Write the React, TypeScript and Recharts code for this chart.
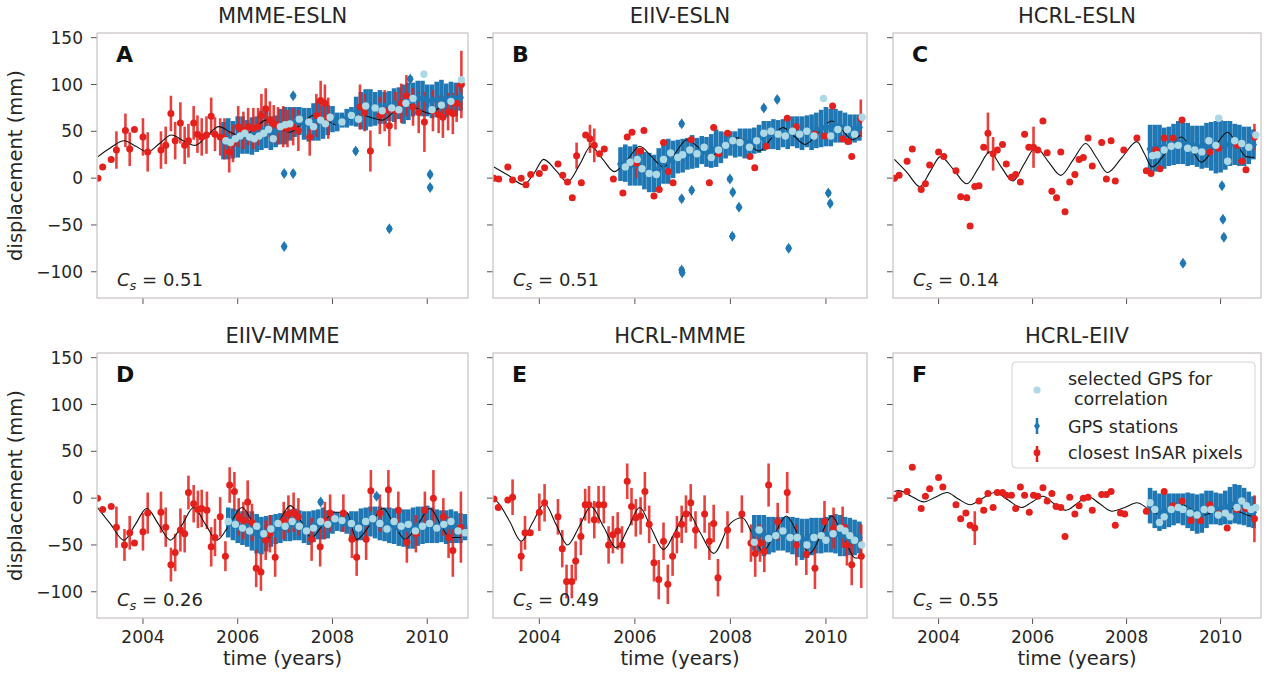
import React from "react";
import { ComposedChart, Scatter, Line, XAxis, YAxis, ErrorBar } from "recharts";

type Row = [number, number, number];
type Pt = [number, number];

const titles = ["MMME-ESLN", "EIIV-ESLN", "HCRL-ESLN", "EIIV-MMME", "HCRL-MMME", "HCRL-EIIV"];
const letters = ["A", "B", "C", "D", "E", "F"];
const corrValues = ["0.51", "0.51", "0.14", "0.26", "0.49", "0.55"];
const yearTicks = [2004, 2006, 2008, 2010];
const dispTicks = [-100, -50, 0, 50, 100, 150];

// InSAR: [time, displacement, error]
const insarA: Row[] = [
  [2003.05, 0, 0], [2003.15, 12, 0], [2003.33, 20, 0], [2003.44, 30, 20], [2003.63, 51, 18], [2003.72, 31, 18],
  [2003.82, 52, 0], [2004.0, 44, 20], [2004.1, 28, 21], [2004.38, 30, 20], [2004.48, 35, 20], [2004.59, 69, 19],
  [2004.68, 40, 20], [2004.79, 59, 22], [2004.88, 35, 20], [2004.96, 40, 18], [2005.07, 59, 18], [2005.15, 47, 20],
  [2005.24, 44, 20], [2005.34, 46, 20], [2005.44, 66, 20], [2005.52, 47, 18], [2005.63, 44, 20], [2005.72, 42, 22],
  [2005.82, 28, 22], [2005.9, 37, 20], [2006.01, 55, 22], [2006.12, 51, 20], [2006.22, 55, 20], [2006.33, 53, 22],
  [2006.43, 55, 20], [2006.5, 67, 23], [2006.59, 74, 22], [2006.68, 62, 20], [2006.76, 58, 20], [2006.85, 56, 20],
  [2006.96, 55, 22], [2007.05, 53, 20], [2007.17, 55, 20], [2007.28, 51, 22], [2007.52, 44, 20], [2007.66, 67, 23],
  [2007.75, 83, 21], [2007.84, 80, 20], [2007.91, 64, 22], [2008.58, 76, 24], [2008.68, 70, 20], [2008.8, 29, 22],
  [2009.0, 67, 20], [2009.1, 72, 22], [2009.2, 56, 22], [2009.33, 72, 20], [2009.45, 80, 21], [2009.56, 88, 22],
  [2009.7, 76, 20], [2009.82, 70, 22], [2009.94, 60, 32], [2010.12, 72, 22], [2010.24, 68, 20], [2010.33, 65, 22],
  [2010.44, 71, 20], [2010.54, 69, 22], [2010.62, 80, 20], [2010.72, 100, 36],
];
const insarB: Row[] = [
  [2003.05, 0, 0], [2003.15, -1, 0], [2003.34, 12, 0], [2003.44, -2, 0], [2003.62, 0, 0], [2003.72, -7, 0],
  [2003.82, 4, 0], [2004.0, 5, 0], [2004.11, 11, 0], [2004.39, 15, 0], [2004.49, 3, 0], [2004.59, -4, 0],
  [2004.69, -21, 0], [2004.78, 24, 14], [2004.88, -5, 0], [2004.97, 46, 0], [2005.06, 42, 15], [2005.15, 35, 18],
  [2005.26, 26, 0], [2005.36, 31, 0], [2005.55, -1, 0], [2005.75, -16, 0], [2005.84, 44, 0], [2005.94, 49, 0],
  [2006.03, 16, 16], [2006.12, 29, 0], [2006.19, 51, 0], [2006.4, -19, 0], [2006.51, -12, 0], [2006.6, 38, 0],
  [2006.7, 7, 0], [2006.8, -5, 0], [2007.18, 41, 0], [2007.56, -5, 0], [2007.65, 54, 0], [2007.76, 26, 0],
  [2007.94, 48, 0], [2008.41, 23, 0], [2008.51, 11, 0], [2008.75, 34, 0], [2009.19, 64, 0], [2009.38, 55, 0],
  [2009.77, 47, 0], [2009.97, 45, 0], [2010.14, 77, 0], [2010.35, 42, 0], [2010.46, 39, 0], [2010.54, 23, 0],
  [2010.73, 64, 20],
];
const insarC: Row[] = [
  [2003.06, 0, 0], [2003.16, 3, 0], [2003.33, 18, 0], [2003.44, 31, 0], [2003.63, -12, 0], [2003.72, -6, 0],
  [2003.81, 14, 0], [2004.0, 28, 0], [2004.11, 23, 0], [2004.37, 8, 0], [2004.47, -20, 0], [2004.6, -21, 0],
  [2004.67, -51, 0], [2004.77, -9, 0], [2004.86, -8, 0], [2004.96, 33, 0], [2005.05, 48, 22], [2005.16, 26, 18],
  [2005.25, 30, 0], [2005.36, 36, 0], [2005.44, 15, 0], [2005.55, 1, 0], [2005.64, 4, 0], [2005.74, -4, 0],
  [2005.83, 47, 0], [2005.92, 33, 0], [2006.02, 33, 22], [2006.11, 30, 0], [2006.22, 61, 0], [2006.31, 27, 0],
  [2006.41, -14, 0], [2006.51, -21, 0], [2006.6, 28, 0], [2006.69, -36, 0], [2006.79, -4, 0], [2006.9, 4, 0],
  [2006.99, 20, 0], [2007.08, 22, 0], [2007.18, 43, 0], [2007.27, 13, 0], [2007.47, 38, 0], [2007.57, -1, 0],
  [2007.67, 40, 0], [2007.76, -3, 0], [2007.94, 30, 0], [2008.22, 43, 0], [2008.42, 8, 0], [2008.52, 5, 0],
  [2008.62, 30, 0], [2008.71, 10, 0], [2008.8, 43, 0], [2008.99, 43, 0], [2009.18, 62, 0], [2009.77, 28, 0],
  [2009.96, 32, 0], [2010.36, 35, 0], [2010.45, 18, 0], [2010.54, 9, 0], [2010.72, 44, 14],
];
const insarD: Row[] = [
  [2003.04, 0, 0], [2003.15, -12, 0], [2003.33, -9, 0], [2003.44, -31, 22], [2003.61, -50, 17], [2003.72, -37, 18],
  [2003.82, -48, 0], [2004.0, -36, 20], [2004.1, -16, 22], [2004.38, -15, 22], [2004.48, -31, 21], [2004.59, -71, 18],
  [2004.68, -58, 20], [2004.79, -34, 23], [2004.88, -38, 20], [2004.96, 6, 18], [2005.07, -6, 20], [2005.16, -12, 20],
  [2005.24, -11, 20], [2005.35, -13, 20], [2005.44, -52, 21], [2005.52, -42, 20], [2005.63, -20, 21], [2005.74, -62, 16],
  [2005.83, 14, 19], [2005.93, 7, 21], [2006.02, -20, 20], [2006.12, -24, 20], [2006.21, -4, 23], [2006.3, -26, 20],
  [2006.39, -75, 20], [2006.49, -79, 20], [2006.59, -45, 21], [2006.68, -38, 20], [2006.79, -63, 21], [2006.97, -24, 20],
  [2007.07, -17, 20], [2007.18, -15, 21], [2007.28, -20, 20], [2007.56, -44, 23], [2007.74, -52, 21], [2007.84, -24, 20],
  [2007.95, -16, 20], [2008.23, -16, 20], [2008.41, -44, 20], [2008.51, -63, 20], [2008.71, -44, 22], [2008.81, 8, 22],
  [2009.0, -16, 20], [2009.18, 9, 21], [2009.39, -13, 20], [2009.57, -47, 22], [2009.76, -38, 20], [2009.95, -13, 20],
  [2010.13, 0, 30], [2010.34, -20, 20], [2010.45, -42, 22], [2010.54, -56, 28], [2010.71, -31, 38],
];
const insarE: Row[] = [
  [2003.05, -1, 0], [2003.14, -10, 0], [2003.34, -2, 0], [2003.44, 1, 19], [2003.62, -62, 16], [2003.7, -37, 18],
  [2003.81, -37, 0], [2004.0, -15, 20], [2004.11, -5, 20], [2004.39, -20, 19], [2004.48, -54, 20], [2004.57, -89, 18],
  [2004.68, -89, 18], [2004.76, -67, 21], [2004.87, -41, 20], [2004.96, -7, 17], [2005.04, -7, 20], [2005.15, -23, 20],
  [2005.24, -7, 20], [2005.35, -7, 20], [2005.45, -50, 20], [2005.54, -39, 20], [2005.64, -35, 20], [2005.73, -50, 20],
  [2005.84, 18, 19], [2005.93, -9, 20], [2006.02, -21, 20], [2006.12, -19, 20], [2006.21, 7, 21], [2006.3, -28, 20],
  [2006.4, -69, 20], [2006.5, -87, 21], [2006.6, -46, 20], [2006.69, -92, 21], [2006.79, -62, 21], [2006.88, -39, 20],
  [2006.98, -28, 20], [2007.07, -17, 20], [2007.17, -5, 20], [2007.27, -34, 20], [2007.46, -17, 20], [2007.56, -46, 20],
  [2007.65, -27, 20], [2007.74, -85, 20], [2007.94, -34, 20], [2008.24, -17, 20], [2008.43, -48, 20], [2008.52, -59, 25],
  [2008.62, -48, 20], [2008.71, -57, 22], [2008.8, 14, 23], [2008.99, -25, 20], [2009.19, 6, 22], [2009.38, -50, 22],
  [2009.59, -60, 22], [2009.77, -75, 22], [2009.97, -25, 22], [2010.16, -32, 22], [2010.35, -31, 22], [2010.44, -50, 22],
  [2010.54, -71, 22], [2010.74, -62, 34],
];
const insarF: Row[] = [
  [2003.06, 0, 0], [2003.16, 4, 0], [2003.33, 7, 0], [2003.44, 33, 0], [2003.63, -11, 0], [2003.72, 2, 0],
  [2003.81, 10, 0], [2004.0, 22, 0], [2004.09, 12, 0], [2004.37, -7, 0], [2004.47, -22, 0], [2004.58, -16, 0],
  [2004.67, -29, 0], [2004.77, -32, 18], [2004.86, -3, 0], [2004.96, -13, 0], [2005.05, 5, 0], [2005.16, -10, 0],
  [2005.25, 6, 0], [2005.36, 6, 0], [2005.44, 3, 0], [2005.55, 3, 0], [2005.64, -11, 0], [2005.74, 12, 0],
  [2005.83, 3, 0], [2005.93, -15, 0], [2006.02, 3, 0], [2006.11, 2, 0], [2006.22, 11, 0], [2006.31, -3, 0],
  [2006.41, 5, 0], [2006.5, -9, 0], [2006.6, -10, 0], [2006.69, -41, 0], [2006.79, 1, 0], [2006.9, -17, 0],
  [2006.99, -8, 0], [2007.08, 0, 0], [2007.18, 1, 0], [2007.27, -13, 0], [2007.47, 4, 0], [2007.57, 4, 0],
  [2007.67, 7, 0], [2007.76, -29, 0], [2007.87, -16, 0], [2007.96, -17, 0], [2008.42, -14, 0], [2008.8, 7, 0],
  [2008.99, -8, 0], [2009.18, -3, 0], [2009.37, -24, 0], [2009.57, -24, 0], [2009.77, -7, 0], [2009.96, -17, 0],
  [2010.14, -32, 0], [2010.35, -12, 0], [2010.54, -11, 0], [2010.72, -22, 25],
];

// GPS stations: [time, displacement, error]
const gpsA: Row[] = [
  [2005.7, 40, 20], [2005.8, 42, 22], [2005.9, 41, 20], [2006.0, 44, 22], [2006.1, 46, 20], [2006.2, 44, 18],
  [2006.3, 45, 20], [2006.4, 47, 19], [2006.5, 51, 21], [2006.6, 52, 20], [2006.7, 48, 18], [2006.8, 50, 17],
  [2006.9, 55, 19], [2007.0, 56, 20], [2007.1, 58, 18], [2007.2, 60, 16], [2007.3, 61, 15], [2007.4, 58, 17],
  [2007.5, 57, 18], [2007.6, 60, 20], [2007.7, 62, 22], [2007.8, 60, 18], [2007.9, 62, 16], [2008.0, 63, 14],
  [2008.1, 60, 10], [2008.2, 62, 8], [2008.3, 64, 10], [2008.4, 66, 10], [2008.5, 71, 16], [2008.6, 72, 20],
  [2008.7, 73, 22], [2008.8, 75, 20], [2008.9, 74, 18], [2009.0, 76, 18], [2009.1, 75, 17], [2009.2, 77, 16],
  [2009.3, 78, 18], [2009.4, 80, 17], [2009.5, 79, 21], [2009.6, 82, 20], [2009.7, 84, 18], [2009.8, 86, 18],
  [2009.9, 85, 19], [2010.0, 83, 17], [2010.1, 82, 18], [2010.2, 84, 19], [2010.3, 85, 20], [2010.4, 83, 18],
  [2010.5, 86, 17], [2010.6, 84, 18], [2010.7, 86, 14],
  [2006.98, 5, 3], [2007.17, 5, 3], [2006.98, -73, 3], [2007.17, 88, 3], [2008.49, 29, 3], [2009.2, -54, 3],
  [2010.06, 4, 3], [2010.06, -10, 3], [2009.64, 106, 3],
];
const gpsB: Row[] = [
  [2005.7, 15, 18], [2005.8, 16, 20], [2005.9, 13, 21], [2006.0, 14, 22], [2006.1, 12, 20], [2006.2, 8, 20],
  [2006.3, 6, 21], [2006.4, 5, 20], [2006.5, 10, 22], [2006.6, 16, 22], [2006.7, 18, 24], [2006.8, 20, 20],
  [2006.9, 23, 18], [2007.0, 24, 18], [2007.1, 26, 17], [2007.2, 28, 18], [2007.3, 27, 16], [2007.4, 30, 15],
  [2007.5, 28, 16], [2007.6, 29, 18], [2007.7, 32, 20], [2007.8, 33, 17], [2007.9, 35, 14], [2008.0, 37, 13],
  [2008.1, 36, 14], [2008.2, 38, 15], [2008.3, 37, 16], [2008.4, 38, 15], [2008.5, 40, 14], [2008.6, 42, 15],
  [2008.7, 45, 16], [2008.8, 46, 15], [2008.9, 47, 16], [2009.0, 46, 16], [2009.1, 48, 15], [2009.2, 47, 16],
  [2009.3, 50, 16], [2009.4, 49, 17], [2009.5, 48, 18], [2009.6, 50, 17], [2009.7, 49, 19], [2009.8, 51, 19],
  [2009.9, 53, 20], [2010.0, 55, 21], [2010.1, 54, 20], [2010.2, 56, 18], [2010.3, 55, 17], [2010.4, 54, 16],
  [2010.5, 52, 16], [2010.6, 53, 15], [2010.7, 54, 14],
  [2006.98, 58, 3], [2006.98, -22, 3], [2006.98, -98, 3], [2006.99, -101, 3], [2007.19, -13, 3], [2007.99, -1, 3],
  [2008.05, -15, 3], [2008.18, -31, 3], [2008.04, -62, 3], [2008.7, 75, 3], [2008.98, 84, 3], [2009.22, -75, 3],
  [2010.05, -16, 3], [2010.09, -27, 3],
];
const gpsC: Row[] = [
  [2008.5, 31, 26], [2008.6, 32, 25], [2008.7, 33, 24], [2008.8, 32, 22], [2008.9, 34, 21], [2009.0, 36, 22],
  [2009.1, 38, 23], [2009.2, 37, 22], [2009.3, 36, 23], [2009.4, 35, 21], [2009.5, 34, 22], [2009.6, 33, 23],
  [2009.7, 35, 24], [2009.8, 34, 26], [2009.9, 33, 28], [2010.0, 34, 28], [2010.1, 35, 26], [2010.2, 37, 24],
  [2010.3, 36, 22], [2010.4, 35, 22], [2010.5, 34, 21], [2010.6, 35, 20], [2010.7, 36, 16],
  [2010.03, -8, 3], [2010.05, -44, 3], [2010.07, -63, 3], [2009.2, -91, 3],
];
const gpsD: Row[] = [
  [2005.8, -26, 16], [2005.9, -28, 17], [2006.0, -30, 18], [2006.1, -32, 18], [2006.2, -33, 19], [2006.3, -35, 21],
  [2006.4, -38, 21], [2006.5, -40, 20], [2006.6, -38, 19], [2006.7, -35, 17], [2006.8, -33, 16], [2006.9, -32, 16],
  [2007.0, -30, 16], [2007.1, -29, 17], [2007.2, -28, 17], [2007.3, -29, 16], [2007.4, -31, 17], [2007.5, -32, 18],
  [2007.6, -30, 17], [2007.7, -28, 16], [2007.8, -27, 17], [2007.9, -28, 15], [2008.0, -26, 12], [2008.1, -25, 10],
  [2008.2, -26, 10], [2008.3, -27, 11], [2008.4, -28, 14], [2008.5, -30, 16], [2008.6, -28, 17], [2008.7, -26, 16],
  [2008.8, -25, 16], [2008.9, -26, 17], [2009.0, -27, 18], [2009.1, -28, 18], [2009.2, -29, 19], [2009.3, -30, 19],
  [2009.4, -31, 20], [2009.5, -32, 20], [2009.6, -33, 21], [2009.7, -32, 22], [2009.8, -30, 21], [2009.9, -29, 20],
  [2010.0, -28, 20], [2010.1, -29, 19], [2010.2, -30, 18], [2010.3, -30, 17], [2010.4, -31, 18], [2010.5, -30, 18],
  [2010.6, -31, 17], [2010.7, -32, 16], [2010.8, -31, 14],
  [2007.75, -4, 3], [2008.93, 2, 3],
];
const gpsE: Row[] = [
  [2008.5, -37, 19], [2008.6, -38, 20], [2008.7, -40, 22], [2008.8, -40, 20], [2008.9, -39, 19], [2009.0, -38, 18],
  [2009.1, -38, 18], [2009.2, -39, 19], [2009.3, -40, 20], [2009.4, -42, 21], [2009.5, -44, 22], [2009.6, -43, 21],
  [2009.7, -41, 20], [2009.8, -40, 19], [2009.9, -40, 19], [2010.0, -39, 19], [2010.1, -38, 20], [2010.2, -38, 21],
  [2010.3, -40, 22], [2010.4, -41, 21], [2010.5, -41, 20], [2010.6, -42, 19], [2010.7, -42, 17],
];
const gpsF: Row[] = [
  [2008.5, -8, 19], [2008.6, -12, 20], [2008.7, -15, 20], [2008.8, -14, 19], [2008.9, -13, 18], [2009.0, -12, 17],
  [2009.1, -11, 16], [2009.2, -12, 17], [2009.3, -13, 19], [2009.4, -15, 20], [2009.5, -17, 21], [2009.6, -16, 21],
  [2009.7, -12, 20], [2009.8, -10, 18], [2009.9, -11, 17], [2010.0, -12, 17], [2010.1, -10, 18], [2010.2, -8, 20],
  [2010.3, -6, 21], [2010.4, -7, 21], [2010.5, -9, 20], [2010.6, -12, 19], [2010.7, -15, 17],
];

// selected GPS for correlation: [time, displacement]
const selA: Pt[] = [
  [2005.75, 40], [2005.85, 38], [2005.95, 42], [2006.05, 45], [2006.15, 48], [2006.25, 44], [2006.35, 42],
  [2006.45, 45], [2006.55, 48], [2006.65, 52], [2006.75, 42], [2006.9, 55], [2007.0, 57], [2007.1, 58],
  [2007.3, 63], [2007.5, 60], [2007.6, 55], [2007.75, 62], [2007.85, 58], [2007.95, 65], [2008.2, 60],
  [2008.4, 67], [2008.55, 63], [2008.7, 77], [2008.9, 75], [2009.05, 72], [2009.25, 75], [2009.4, 73],
  [2009.55, 80], [2009.7, 85], [2009.93, 111], [2010.1, 73], [2010.3, 78], [2010.5, 82], [2010.72, 105],
];
const selB: Pt[] = [
  [2005.8, 12], [2005.9, 17], [2006.05, 20], [2006.15, 10], [2006.3, 5], [2006.45, 4], [2006.6, 20],
  [2006.75, 27], [2006.9, 22], [2007.0, 25], [2007.15, 30], [2007.3, 26], [2007.45, 33], [2007.6, 22],
  [2007.75, 30], [2007.9, 35], [2008.05, 40], [2008.2, 38], [2008.4, 33], [2008.55, 40], [2008.7, 48],
  [2008.85, 50], [2009.0, 47], [2009.15, 45], [2009.3, 50], [2009.45, 47], [2009.6, 50], [2009.75, 45],
  [2009.95, 85], [2010.1, 45], [2010.25, 52], [2010.45, 52], [2010.6, 47], [2010.76, 65],
];
const selC: Pt[] = [
  [2008.55, 24], [2008.65, 25], [2008.8, 30], [2008.95, 34], [2009.1, 35], [2009.3, 32], [2009.45, 30],
  [2009.6, 28], [2009.75, 40], [2009.9, 35], [2009.96, 64], [2010.15, 18], [2010.3, 40], [2010.45, 37],
  [2010.6, 33], [2010.75, 46],
];
const selD: Pt[] = [
  [2005.8, -25], [2005.95, -28], [2006.1, -32], [2006.25, -35], [2006.4, -30], [2006.55, -38], [2006.7, -33],
  [2006.85, -27], [2007.0, -30], [2007.15, -25], [2007.3, -30], [2007.45, -35], [2007.6, -32], [2007.75, -25],
  [2007.9, -28], [2008.05, -22], [2008.2, -24], [2008.4, -27], [2008.55, -32], [2008.7, -25], [2008.85, -22],
  [2009.0, -27], [2009.15, -33], [2009.3, -25], [2009.45, -30], [2009.6, -28], [2009.75, -35], [2009.9, -30],
  [2010.05, -27], [2010.2, -32], [2010.35, -28], [2010.5, -25], [2010.65, -35], [2010.8, -37],
];
const selE: Pt[] = [
  [2008.5, -47], [2008.6, -34], [2008.8, -43], [2008.95, -40], [2009.1, -35], [2009.25, -42], [2009.4, -42],
  [2009.6, -50], [2009.75, -42], [2009.9, -40], [2010.0, -45], [2010.15, -38], [2010.3, -32], [2010.4, -35],
  [2010.5, -40], [2010.6, -45], [2010.75, -50],
];
const selF: Pt[] = [
  [2008.5, -5], [2008.6, -12], [2008.7, -26], [2008.8, -20], [2008.95, -12], [2009.1, -10], [2009.2, -12],
  [2009.35, -16], [2009.5, -18], [2009.65, -12], [2009.8, -12], [2009.95, -18], [2010.1, -16], [2010.2, -20],
  [2010.35, -10], [2010.45, -3], [2010.55, -8], [2010.65, -12], [2010.75, -10],
];

// fitted seasonal model: [time, displacement]
const fitA: Pt[] = [
  [2003.05, 23], [2003.3, 32], [2003.6, 40], [2003.85, 34], [2004.1, 28], [2004.35, 37], [2004.6, 46],
  [2004.85, 40], [2005.1, 35], [2005.35, 45], [2005.6, 55], [2005.85, 49], [2006.1, 44], [2006.35, 53],
  [2006.6, 62], [2006.85, 55], [2007.1, 49], [2007.35, 58], [2007.6, 67], [2007.85, 62], [2008.1, 57],
  [2008.35, 63], [2008.55, 69], [2008.8, 65], [2009.05, 62], [2009.3, 71], [2009.55, 80], [2009.8, 74],
  [2010.05, 69], [2010.3, 77], [2010.55, 84], [2010.75, 85],
];
const fitB: Pt[] = [
  [2003.05, 12], [2003.35, 3], [2003.67, -7], [2003.9, 6], [2004.09, 20], [2004.35, 8], [2004.59, -4],
  [2004.85, 15], [2005.08, 34], [2005.33, 20], [2005.57, 7], [2005.85, 20], [2006.1, 34], [2006.35, 23],
  [2006.6, 12], [2006.85, 27], [2007.09, 41], [2007.35, 32], [2007.58, 23], [2007.85, 33], [2008.15, 43],
  [2008.38, 36], [2008.6, 29], [2008.85, 42], [2009.1, 54], [2009.33, 45], [2009.56, 36], [2009.85, 49],
  [2010.12, 61], [2010.35, 51], [2010.55, 41], [2010.72, 46],
];
const fitC: Pt[] = [
  [2003.06, 20], [2003.33, 6], [2003.6, -9], [2003.82, 7], [2004.04, 23], [2004.32, 9], [2004.6, -6],
  [2004.85, 11], [2005.09, 28], [2005.33, 12], [2005.58, -3], [2005.82, 15], [2006.07, 33], [2006.33, 18],
  [2006.6, 3], [2006.87, 20], [2007.13, 37], [2007.36, 22], [2007.59, 6], [2007.9, 22], [2008.22, 39],
  [2008.38, 26], [2008.54, 12], [2008.85, 28], [2009.17, 44], [2009.38, 31], [2009.59, 17], [2009.87, 33],
  [2010.15, 49], [2010.35, 36], [2010.54, 23], [2010.72, 22],
];
const fitD: Pt[] = [
  [2003.04, -10], [2003.32, -28], [2003.6, -45], [2003.84, -28], [2004.08, -11], [2004.33, -28], [2004.58, -45],
  [2004.83, -28], [2005.07, -10], [2005.32, -28], [2005.56, -45], [2005.83, -28], [2006.09, -10], [2006.34, -28],
  [2006.58, -45], [2006.85, -27], [2007.11, -8], [2007.34, -25], [2007.56, -42], [2007.8, -28], [2008.02, -15],
  [2008.3, -15], [2008.51, -44], [2008.8, -28], [2009.07, -11], [2009.3, -28], [2009.53, -44], [2009.8, -28],
  [2010.06, -11], [2010.27, -27], [2010.48, -42], [2010.71, -42],
];
const fitE: Pt[] = [
  [2003.05, -1], [2003.14, -5], [2003.38, -25], [2003.62, -46], [2003.86, -26], [2004.11, -6], [2004.35, -28],
  [2004.59, -50], [2004.84, -30], [2005.08, -9], [2005.35, -31], [2005.61, -53], [2005.86, -32], [2006.1, -10],
  [2006.35, -33], [2006.6, -55], [2006.85, -35], [2007.09, -14], [2007.37, -37], [2007.65, -59], [2008.0, -27],
  [2008.25, -21], [2008.47, -39], [2008.68, -57], [2008.93, -38], [2009.17, -19], [2009.42, -39], [2009.66, -59],
  [2009.9, -39], [2010.12, -19], [2010.37, -42], [2010.62, -64], [2010.74, -64],
];
const fitF: Pt[] = [
  [2003.06, 7], [2003.15, 8], [2003.42, 2], [2003.68, -4], [2003.93, 1], [2004.18, 6], [2004.42, -1],
  [2004.67, -7], [2004.94, 0], [2005.2, 6], [2005.48, -2], [2005.76, -10], [2005.99, -4], [2006.22, 2],
  [2006.46, -6], [2006.71, -13], [2006.94, -6], [2007.17, 2], [2007.43, -6], [2007.69, -14], [2007.96, -10],
  [2008.22, -5], [2008.45, -11], [2008.68, -17], [2008.92, -12], [2009.17, -7], [2009.42, -13], [2009.66, -18],
  [2009.89, -13], [2010.12, -9], [2010.38, -14], [2010.65, -19], [2010.72, -19],
];

const insarSets = [insarA, insarB, insarC, insarD, insarE, insarF];
const gpsSets = [gpsA, gpsB, gpsC, gpsD, gpsE, gpsF];
const selSets = [selA, selB, selC, selD, selE, selF];
const fitSets = [fitA, fitB, fitC, fitD, fitE, fitF];

const RED = "#e3201b";
const BLUE = "#1f77b4";
const LIGHT = "#add8e6";
const FRAME = "#c9c2c2";
const FONT = "'DejaVu Sans', sans-serif";

const colLeft = [97, 493, 893];
const colWidth = [371, 374, 368];
const rowTop = [33, 353];
const plotH = 265;

const rows = (a: Row[]) => a.map(([t, v, e]) => ({ t, v, e }));
const pts = (a: Pt[]) => a.map(([t, v]) => ({ t, v }));
const minus = (v: number) => (v < 0 ? "\u2212" + Math.abs(v) : String(v));

const diamond = (p: any) =>
  p.cx == null ? <g /> : (
    <polygon
      points={`${p.cx},${p.cy - 5.5} ${p.cx + 3.5},${p.cy} ${p.cx},${p.cy + 5.5} ${p.cx - 3.5},${p.cy}`}
      fill={BLUE}
    />
  );
const dot = (color: string, r: number) => (p: any) =>
  p.cx == null ? <g /> : <circle cx={p.cx} cy={p.cy} r={r} fill={color} />;

function Panel({ idx }: { idx: number }) {
  const r = Math.floor(idx / 3);
  const c = idx % 3;
  const w = colWidth[c];
  return (
    <div style={{ position: "absolute", left: colLeft[c] - 60, top: rowTop[r] - 10 }}>
      <ComposedChart width={w + 70} height={plotH + 50} margin={{ top: 10, right: 10, left: 0, bottom: 0 }}>
        <XAxis
          type="number"
          dataKey="t"
          domain={[2003.03, 2010.86]}
          ticks={yearTicks}
          interval={0}
          allowDataOverflow
          axisLine={false}
          tickLine={{ stroke: "#555" }}
          tickSize={6}
          tickMargin={7}
          height={40}
          tick={{ fill: "#262626", fontSize: 17 }}
          tickFormatter={(v: number) => (r === 1 ? String(v) : "")}
        />
        <YAxis
          type="number"
          dataKey="v"
          domain={[-128, 155]}
          ticks={dispTicks}
          interval={0}
          allowDataOverflow
          axisLine={false}
          tickLine={{ stroke: "#555" }}
          tickSize={6}
          tickMargin={8}
          width={60}
          tick={{ fill: "#262626", fontSize: 17 }}
          tickFormatter={(v: number) => (c === 0 ? minus(v) : "")}
        />
        <Scatter data={rows(gpsSets[idx])} dataKey="v" shape={diamond} isAnimationActive={false}>
          <ErrorBar dataKey="e" direction="y" width={0} stroke={BLUE} strokeWidth={4.6} isAnimationActive={false} />
        </Scatter>
        <Scatter data={rows(insarSets[idx])} dataKey="v" shape={dot(RED, 3.5)} isAnimationActive={false}>
          <ErrorBar dataKey="e" direction="y" width={0} stroke={RED} strokeWidth={2.6} strokeOpacity={0.85} isAnimationActive={false} />
        </Scatter>
        <Line data={pts(fitSets[idx])} dataKey="v" type="monotone" stroke="#111" strokeWidth={1.1} dot={false} activeDot={false} isAnimationActive={false} />
        <Scatter data={pts(selSets[idx])} dataKey="v" shape={dot(LIGHT, 3.7)} isAnimationActive={false} />
      </ComposedChart>
    </div>
  );
}

export default function App() {
  return (
    <div style={{ position: "absolute", left: 0, top: 0, width: 1271, height: 677, background: "#fff", fontFamily: FONT, overflow: "hidden" }}>
      {titles.map((_, i) => (
        <Panel key={i} idx={i} />
      ))}
      <svg width={1271} height={677} style={{ position: "absolute", left: 0, top: 0, pointerEvents: "none" }} fontFamily={FONT}>
        {titles.map((title, i) => {
          const r = Math.floor(i / 3);
          const c = i % 3;
          const x0 = colLeft[c];
          const y0 = rowTop[r];
          const w = colWidth[c];
          return (
            <g key={title}>
              <rect x={x0} y={y0} width={w} height={plotH} fill="none" stroke={FRAME} strokeWidth={1.2} />
              <text x={x0 + w / 2} y={y0 - 10} textAnchor="middle" fontSize={21} fill="#262626">{title}</text>
              <text x={x0 + 19} y={y0 + 28.5} fontSize={22} fontWeight="bold" fill="#111">{letters[i]}</text>
              <text x={x0 + 20} y={y0 + plotH - 12} fontSize={18} fill="#262626">
                <tspan fontStyle="italic">C</tspan>
                <tspan fontStyle="italic" fontSize={13} dy={4}>s</tspan>
                <tspan dy={-4}>{" = " + corrValues[i]}</tspan>
              </text>
              {c === 0 && (
                <text x={22} y={y0 + plotH / 2} transform={`rotate(-90, 22, ${y0 + plotH / 2})`} textAnchor="middle" fontSize={19.5} fill="#262626">
                  displacement (mm)
                </text>
              )}
              {r === 1 && (
                <text x={x0 + w / 2} y={665} textAnchor="middle" fontSize={19.5} fill="#262626">time (years)</text>
              )}
            </g>
          );
        })}
        <g>
          <rect x={1012} y={362} width={243} height={106} rx={4} fill="#fff" fillOpacity={0.85} stroke="#d3d3d3" />
          <circle cx={1037} cy={390} r={3.6} fill={LIGHT} />
          <text x={1068} y={385} fontSize={17.5} fill="#262626">selected GPS for</text>
          <text x={1074} y={405} fontSize={17.5} fill="#262626">correlation</text>
          <line x1={1037} y1={418} x2={1037} y2={434} stroke={BLUE} strokeWidth={2.5} />
          <polygon points="1037,421.5 1040,426 1037,430.5 1034,426" fill={BLUE} />
          <text x={1068} y={432.5} fontSize={17.5} fill="#262626">GPS stations</text>
          <line x1={1037} y1={446} x2={1037} y2={462} stroke={RED} strokeWidth={2.5} />
          <circle cx={1037} cy={452.7} r={3.4} fill={RED} />
          <text x={1068} y={459.3} fontSize={17.5} fill="#262626">closest InSAR pixels</text>
        </g>
      </svg>
    </div>
  );
}
